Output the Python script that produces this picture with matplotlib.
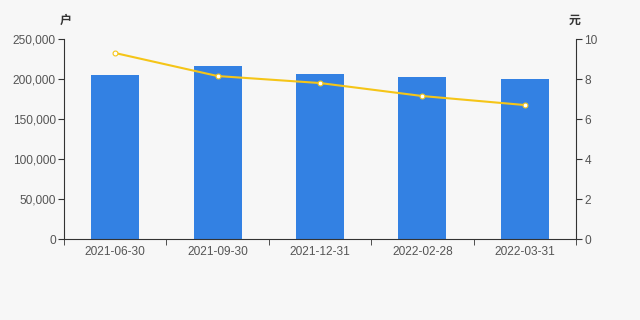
import matplotlib
matplotlib.use("Agg")
from matplotlib import pyplot as plt
import numpy as np

plt.rcParams['font.family'] = ['Liberation Sans', 'Noto Sans CJK SC']

# data
dates = ['2021-06-30', '2021-09-30', '2021-12-31', '2022-02-28', '2022-03-31']
holders = [205000, 216500, 206500, 202000, 199800]
price = [9.3, 8.15, 7.8, 7.15, 6.7]

bg = '#f7f7f7'
bar_c = '#3381e3'
line_c = '#f5c518'
txt_c = '#555555'
ax_c = '#333333'

fig = plt.figure(figsize=(6.4, 3.2), dpi=100, facecolor=bg)
ax = fig.add_axes([0.1, 0.253, 0.8, 0.625], facecolor=bg)
x = np.arange(len(dates))
ax.bar(x, holders, width=0.47, color=bar_c, zorder=2)
ax.set_xlim(-0.5, len(dates) - 0.5)
ax.set_ylim(0, 250000)
ax.set_yticks(np.arange(0, 250001, 50000))
ax.set_yticklabels([f'{v:,}' for v in range(0, 250001, 50000)])
ax.set_xticks(x)
ax.set_xticklabels(dates)
ax.set_xticks(np.arange(-0.5, len(dates), 1), minor=True)
ax.tick_params(axis='x', which='major', length=0, pad=5, labelsize=8.6, labelcolor=txt_c)
ax.tick_params(axis='x', which='minor', length=4, color=ax_c)
ax.tick_params(axis='y', length=4, color=ax_c, labelsize=8.6, labelcolor=txt_c, pad=2)
for s in ['top', 'right']:
    ax.spines[s].set_visible(False)
for s in ['left', 'bottom']:
    ax.spines[s].set_color(ax_c)

ax2 = ax.twinx()
ax2.plot(x, price, color=line_c, lw=1.5, marker='o', ms=3.5,
         mfc='white', mec=line_c, mew=0.8, zorder=3)
ax2.set_ylim(0, 10)
ax2.set_yticks(np.arange(0, 11, 2))
ax2.tick_params(axis='y', length=4, color=ax_c, labelsize=8.6, labelcolor=txt_c, pad=2)
for s in ['top', 'left', 'bottom']:
    ax2.spines[s].set_visible(False)
ax2.spines['right'].set_color(ax_c)

fig.text(0.102, 0.935, '户', fontsize=8.6, color=ax_c, ha='center', va='center',
         family=['Noto Sans CJK SC'], weight='bold')
fig.text(0.898, 0.935, '元', fontsize=8.6, color=ax_c, ha='center', va='center',
         family=['Noto Sans CJK SC'], weight='bold')

fig.savefig('out.png', dpi=100, facecolor=bg)
